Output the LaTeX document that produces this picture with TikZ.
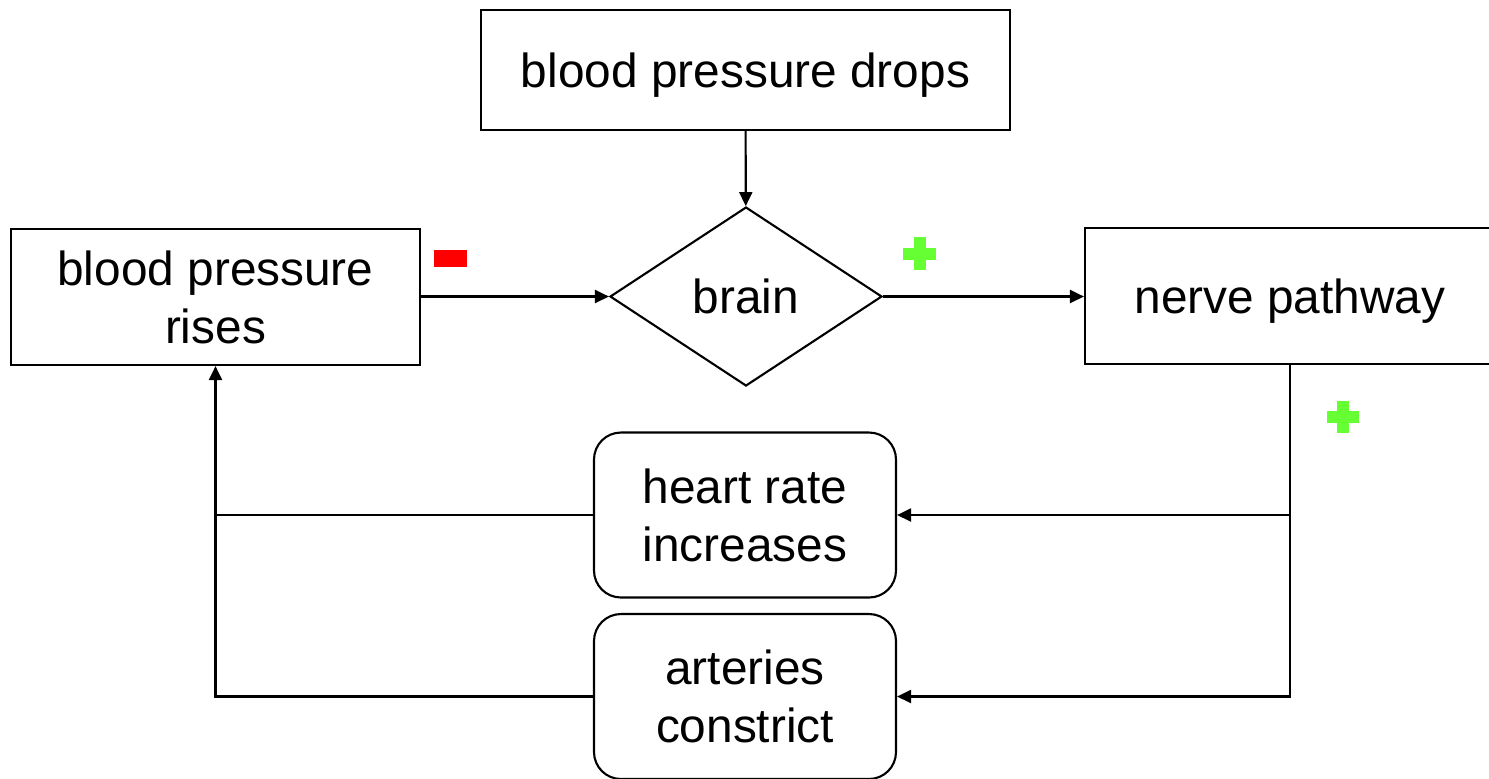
\documentclass[tikz,border=0pt]{standalone}
\usepackage{fontspec}
\setmainfont{Liberation Sans}
\definecolor{minusRed}{RGB}{255, 0, 0}
\definecolor{plusGreen}{RGB}{102, 255, 51}
\usetikzlibrary{
    arrows.meta,
    positioning,
    shapes.geometric
}
\tikzset{
    loopDiagram/.style={
        plainbox/.style={
            rectangle,
            draw,
            line width=0.6pt,
            align=center,
            inner sep=0pt,
        },
        roundbox/.style={
            rectangle,
            rounded corners=2.7mm,
            draw,
            line width=0.6pt,
            align=center,
            inner sep=0pt,
            minimum width=3.02cm,
            minimum height=1.65cm,
        },
        decision/.style={
            diamond,
            draw,
            line width=0.6pt,
            inner sep=0pt,
            minimum width=2.72cm,
            minimum height=1.79cm,
        },
        arrow/.style={
            -{Triangle[length=1.4mm, width=1.3mm]}
        },
    }
}
\begin{document}
\begin{tikzpicture}[
        loopDiagram,
        font=\fontsize{13.6}{16.5}\selectfont,
    ]
    \useasboundingbox (0, 0) rectangle (14.89, -7.78);
    \begin{scope}
        \node[plainbox, text depth=0pt, minimum width=5.29cm, minimum height=1.2cm] (bp_drops) at (7.455, -0.7) {blood pressure drops};
        \node[decision] (brain) at (7.46, -2.965) {brain};
        \node[plainbox, minimum width=4.09cm, minimum height=1.36cm] (bp_rises) at (2.155, -2.97) {blood pressure\\rises};
        \node[plainbox, text depth=0pt, minimum width=4.1cm, minimum height=1.36cm] (nerve) at (12.9, -2.96) {nerve pathway};
        \node[roundbox] (heart) at (7.45, -5.15) {heart rate\\increases};
        \node[roundbox] (arteries) at (7.45, -6.965) {arteries\\constrict};
        \coordinate (split_heart) at (nerve.south |- heart.east);
        \coordinate (merge_heart) at (bp_rises.south |- heart.west);
    \end{scope}

    \begin{scope} [every edge/.style={draw, line width=0.6pt}]
        \path [arrow] (bp_drops) edge (brain);
        \path [arrow] (bp_rises.east |- brain.west) edge (brain.west);
        \path [arrow] (brain.east) edge (nerve.west |- brain.east);
        \path [arrow] (split_heart) edge (heart.east);
        \path (heart.west) edge (merge_heart);
    \end{scope}
    \draw [arrow, line width=0.6pt] (nerve.south) |- (arteries.east);
    \draw [arrow, line width=0.6pt] (arteries.west) -| (bp_rises.south);

    % signs
    \fill [minusRed] (4.34, -2.5) rectangle (4.67, -2.67);
    \fill [plusGreen] (9.03, -2.475) rectangle (9.36, -2.595);
    \fill [plusGreen] (9.135, -2.37) rectangle (9.255, -2.7);
    \fill [plusGreen] (13.27, -4.11) rectangle (13.59, -4.23);
    \fill [plusGreen] (13.37, -4.01) rectangle (13.49, -4.33);
\end{tikzpicture}
\end{document}
